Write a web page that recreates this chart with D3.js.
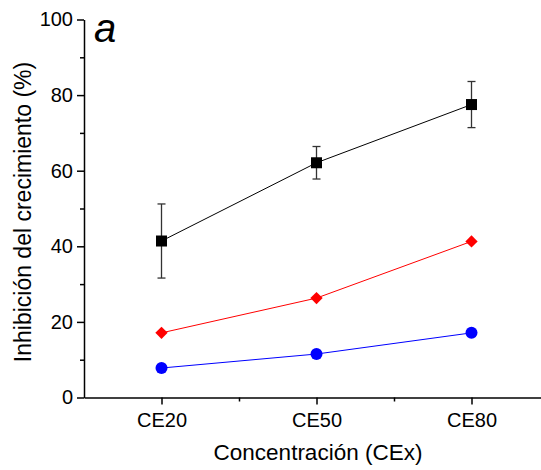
<!DOCTYPE html>
<html><head><meta charset="utf-8">
<script src="https://cdn.jsdelivr.net/npm/d3@7"></script>
<style>body{margin:0;background:#fff}text{font-family:"Liberation Sans",Arial,sans-serif}</style>
</head><body><svg id="c" width="541" height="470"></svg>
<script>
const categories = ["CE20","CE50","CE80"];
const blackVals = [41.4, 62.1, 77.5];
const blackErr = [9.8, 4.3, 6.1];
const redVals = [17.1, 26.3, 41.3];
const blueVals = [7.8, 11.5, 17.1];
const yTicks = [0,20,40,60,80,100];

const svg = d3.select("#c");
const x = d3.scaleLinear().domain([0.5,3.5]).range([84,549]);
const y = d3.scaleLinear().domain([0,100]).range([397.5,19.5]);
const g = svg.append("g");

// axes
const xAxis = d3.axisBottom(x).tickValues([1,2,3]).tickFormat(i=>categories[i-1]).tickSize(7).tickSizeOuter(0);
const xa = g.append("g").attr("transform","translate(0,397.5)").call(xAxis);
xa.select(".domain").attr("stroke-width",1.5);
xa.selectAll(".tick line").attr("stroke-width",1.5);
xa.selectAll("text").attr("font-size",20).attr("y",29).attr("dy",0).attr("fill","#000");
const xMinor = d3.axisBottom(x).tickValues([1.5,2.5]).tickFormat("").tickSize(4).tickSizeOuter(0);
const xm = g.append("g").attr("transform","translate(0,397.5)").call(xMinor);
xm.select(".domain").remove(); xm.selectAll("line").attr("stroke-width",1.5);

const yAxis = d3.axisLeft(y).tickValues(yTicks).tickSize(7).tickSizeOuter(0);
const ya = g.append("g").attr("transform","translate(84,0)").call(yAxis);
ya.select(".domain").attr("stroke-width",1.5);
ya.selectAll(".tick line").attr("stroke-width",1.5);
ya.selectAll("text").attr("font-size",20).attr("fill","#000").attr("x",-11);
const yMinor = d3.axisLeft(y).tickValues([10,30,50,70,90]).tickFormat("").tickSize(4).tickSizeOuter(0);
const ym = g.append("g").attr("transform","translate(84,0)").call(yMinor);
ym.select(".domain").remove(); ym.selectAll("line").attr("stroke-width",1.5);

// titles
svg.append("text").attr("x",318).attr("y",460).attr("text-anchor","middle").attr("font-size",22.5).text("Concentración (CEx)");
svg.append("text").attr("transform","translate(31,212) rotate(-90)").attr("text-anchor","middle").attr("font-size",23).text("Inhibición del crecimiento (%)");
svg.append("text").attr("x",94).attr("y",42).attr("font-size",40).attr("font-style","italic").text("a");

const line = d3.line().x((d,i)=>x(i+1)).y(d=>y(d));
// error bars
const eb = g.append("g").attr("stroke","#333").attr("stroke-width",1.3);
blackVals.forEach((v,i)=>{
  const cx = x(i+1);
  eb.append("line").attr("x1",cx).attr("x2",cx).attr("y1",y(v-blackErr[i])).attr("y2",y(v+blackErr[i]));
  eb.append("line").attr("x1",cx-4).attr("x2",cx+4).attr("y1",y(v-blackErr[i])).attr("y2",y(v-blackErr[i]));
  eb.append("line").attr("x1",cx-4).attr("x2",cx+4).attr("y1",y(v+blackErr[i])).attr("y2",y(v+blackErr[i]));
});

g.append("path").datum(blackVals).attr("d",line).attr("fill","none").attr("stroke","#000").attr("stroke-width",1);
g.append("path").datum(redVals).attr("d",line).attr("fill","none").attr("stroke","#ff0000").attr("stroke-width",1);
g.append("path").datum(blueVals).attr("d",line).attr("fill","none").attr("stroke","#0000ff").attr("stroke-width",1);

g.selectAll(".sq").data(blackVals).enter().append("rect")
  .attr("x",(d,i)=>x(i+1)-5.5).attr("y",d=>y(d)-5.5).attr("width",11).attr("height",11).attr("fill","#000");
g.selectAll(".dm").data(redVals).enter().append("path")
  .attr("d",d3.symbol(d3.symbolSquare,76)).attr("fill","#ff0000")
  .attr("transform",(d,i)=>`translate(${x(i+1)},${y(d)}) rotate(45)`);
g.selectAll(".ci").data(blueVals).enter().append("circle")
  .attr("cx",(d,i)=>x(i+1)).attr("cy",d=>y(d)).attr("r",6).attr("fill","#0000ff");
</script></body></html>
